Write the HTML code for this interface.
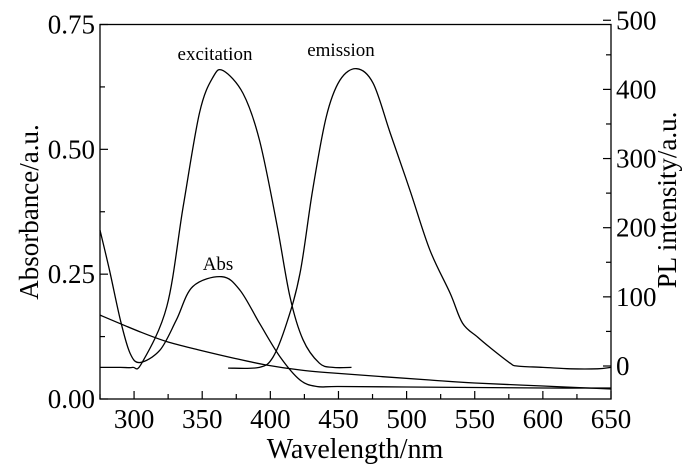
<!DOCTYPE html>
<html><head><meta charset="utf-8"><style>
body{margin:0;background:#fff}
svg{display:block}
text{font-family:"Liberation Serif","DejaVu Serif",serif}
</style></head><body>
<svg id="c" width="700" height="469" viewBox="0 0 700 469"></svg>
<script>
const excWl=[275,290,299,305.6,324,336,348,358,365.5,380,392,404.7,414.4,424,436,446,459.6];
const excPL=[-2,-2,-2,4,86,230,366,418,427,394,327,206,100,38,4,-2,-2];
const emWl=[369,392,402,412,421.8,431,441,451,463.3,475.4,488,502.5,517,532,541,552,561,576,581,600,620,640,650];
const emPL=[-3,-2,13,62,134,254,360,413,430,409,337,254,168,105,62,42,27,4,0,-2,-4,-4,-2];
const absWl=[275,282,290,297,304.4,319,331,343,364.3,377.7,392,407,421.8,434,450,500,550,600,650];
const absA=[0.338,0.258,0.158,0.092,0.073,0.098,0.158,0.225,0.245,0.218,0.152,0.085,0.038,0.025,0.025,0.024,0.023,0.022,0.022];
const baseWl=[275,304,324,348,373,397,422,446,517,550,600,650];
const baseA=[0.168,0.135,0.115,0.098,0.082,0.068,0.058,0.052,0.038,0.032,0.026,0.020];
const xTicks=[300,350,400,450,500,550,600,650];
const yLTicks=[0,0.25,0.5,0.75];
const yLLabels=["0.00","0.25","0.50","0.75"];
const yRTicks=[0,100,200,300,400,500];

const L=100,R=611,T=24.5,B=399;
const X=w=>L+(w-275)*(R-L)/375;
const YA=a=>B-a*(B-T)/0.75;
const YP=p=>366-p*0.6915;
const svg=document.getElementById('c');
const NS='http://www.w3.org/2000/svg';
function mk(t,a,txt){const e=document.createElementNS(NS,t);for(const k in a)e.setAttribute(k,a[k]);if(txt!==undefined)e.textContent=txt;svg.appendChild(e);return e;}

let e=mk('rect',{x:L,y:T,width:R-L,height:B-T,fill:'none',stroke:'#000','stroke-width':1.3});



for(let w=275;w<=650;w+=25){const major=xTicks.includes(w);
 e=mk('line',{x1:X(w),x2:X(w),y1:B,y2:B-(major?8:5),stroke:'#000','stroke-width':1.2});
 
 }
xTicks.forEach(w=>{e=mk('text',{x:X(w),y:428,'text-anchor':'middle','font-size':27},String(w));
 
 });
for(let a=0;a<=0.75001;a+=0.125){e=mk('line',{x1:L,x2:L+(Math.abs(a*4-Math.round(a*4))<1e-6?8:5),y1:YA(a),y2:YA(a),stroke:'#000','stroke-width':1.2});
 
 }
yLTicks.forEach((a,i)=>{e=mk('text',{x:95,y:YA(a)+9,'text-anchor':'end','font-size':27},yLLabels[i]);
 
 });
for(let p=0;p<=500;p+=50){e=mk('line',{x1:R,x2:R-(p%100===0?8:5),y1:YP(p),y2:YP(p),stroke:'#000','stroke-width':1.2});
 
 }
yRTicks.forEach(p=>{e=mk('text',{x:616,y:YP(p)+9,'font-size':27},String(p));
 
 });

e=mk('text',{x:355,y:458,'text-anchor':'middle','font-size':28},'Wavelength/nm');


e=mk('text',{x:0,y:0,'text-anchor':'middle','font-size':27,transform:'translate(38,212) rotate(-90)'},'Absorbance/a.u.');


e=mk('text',{x:0,y:0,'text-anchor':'middle','font-size':27,transform:'translate(676,200) rotate(-90)'},'PL intensity/a.u.');



function curve(xs,ys,fy,name){
 const P=xs.map((w,i)=>[X(w),fy(ys[i])]);
 let d='M'+P[0][0].toFixed(1)+','+P[0][1].toFixed(1);
 for(let i=0;i<P.length-1;i++){const p0=P[Math.max(0,i-1)],p1=P[i],p2=P[i+1],p3=P[Math.min(P.length-1,i+2)];
  const c1=[p1[0]+(p2[0]-p0[0])/6,p1[1]+(p2[1]-p0[1])/6],c2=[p2[0]-(p3[0]-p1[0])/6,p2[1]-(p3[1]-p1[1])/6];
  d+='C'+c1.map(v=>v.toFixed(1)).join(',')+' '+c2.map(v=>v.toFixed(1)).join(',')+' '+p2.map(v=>v.toFixed(1)).join(',');}
 const p=mk('path',{d:d,fill:'none',stroke:'#000','stroke-width':1.3,'stroke-linejoin':'round'});
 
 }
curve(excWl,excPL,YP,'excitation-curve');
curve(emWl,emPL,YP,'emission-curve');
curve(absWl,absA,YA,'abs-curve');
curve(baseWl,baseA,YA,'baseline-curve');

e=mk('text',{x:215,y:60,'text-anchor':'middle','font-size':19},'excitation');


e=mk('text',{x:341,y:56,'text-anchor':'middle','font-size':19},'emission');


e=mk('text',{x:218,y:270,'text-anchor':'middle','font-size':19},'Abs');


</script>
</body></html>
